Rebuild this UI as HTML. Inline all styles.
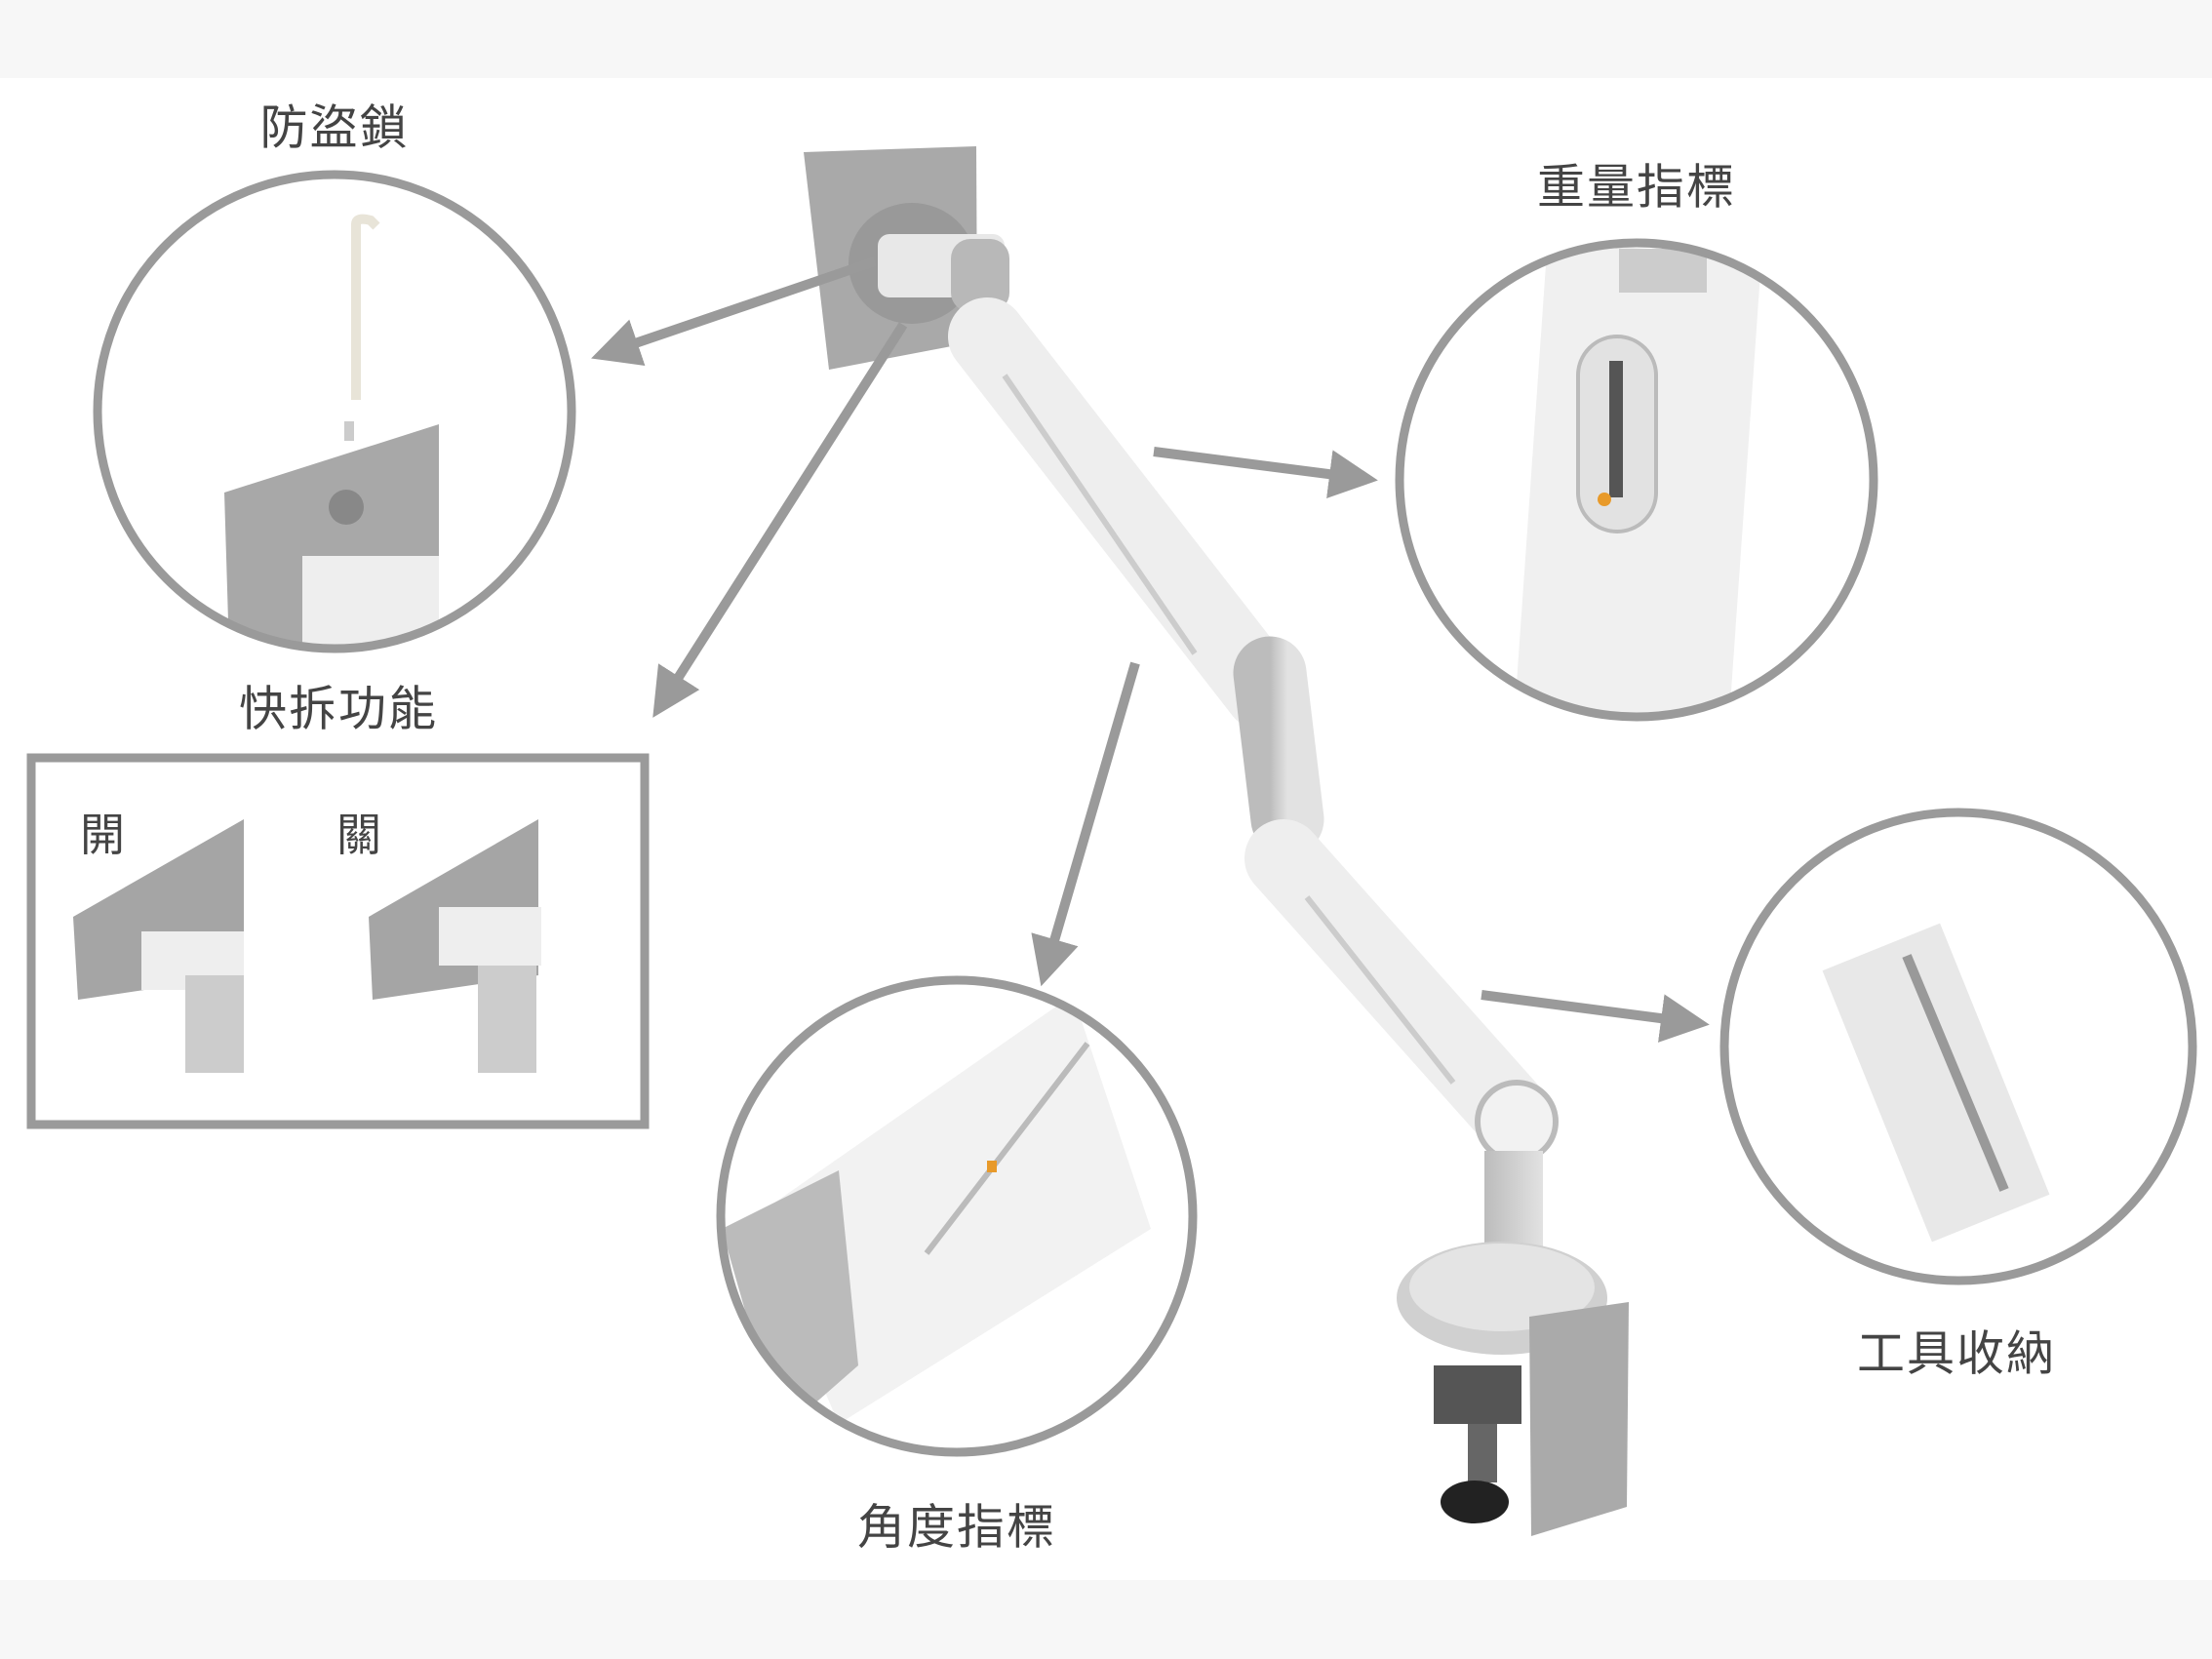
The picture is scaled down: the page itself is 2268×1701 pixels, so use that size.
<!DOCTYPE html>
<html><head><meta charset="utf-8"><style>
html,body{margin:0;padding:0;background:#fff}
.l{position:absolute;font-family:"Liberation Sans","Noto Sans CJK TC",sans-serif;color:#444;font-size:49px;transform:translate(-50%,-50%);white-space:nowrap;letter-spacing:2px}
</style></head><body>
<div style="position:relative;width:2268px;height:1701px;overflow:hidden;background:#fff">
<svg width="2268" height="1701" style="position:absolute;left:0;top:0">
<defs>
<marker id="a" markerWidth="6" markerHeight="6" refX="3" refY="3" orient="auto" markerUnits="strokeWidth"><path d="M0,0.5 L5,3 L0,5.5 Z" fill="#9a9a9a"/></marker>
<linearGradient id="g" x1="0" x2="1"><stop offset="0" stop-color="#bcbcbc"/><stop offset="1" stop-color="#e2e2e2"/></linearGradient>
<clipPath id="c1"><circle cx="343" cy="422" r="240"/></clipPath>
<clipPath id="c2"><circle cx="1678" cy="492" r="240"/></clipPath>
<clipPath id="c3"><circle cx="2008" cy="1073" r="237"/></clipPath>
<clipPath id="c4"><circle cx="981" cy="1247" r="239"/></clipPath>
</defs>
<rect x="0" y="0" width="2268" height="80" fill="#f7f7f7"/>
<rect x="0" y="1620" width="2268" height="81" fill="#f7f7f7"/>
<!-- arm -->
<polygon points="824,156 1001,150 1002,350 850,379" fill="#a9a9a9"/>
<ellipse cx="935" cy="270" rx="65" ry="62" fill="#999"/>
<rect x="900" y="240" width="130" height="65" rx="12" fill="#e8e8e8"/>
<rect x="975" y="245" width="60" height="75" rx="20" fill="#b8b8b8"/>
<line x1="1012" y1="345" x2="1295" y2="709" stroke="#eeeeee" stroke-width="80" stroke-linecap="round"/>
<line x1="1030" y1="385" x2="1225" y2="670" stroke="#ccc" stroke-width="6"/>
<line x1="1302" y1="690" x2="1320" y2="840" stroke="url(#g)" stroke-width="75" stroke-linecap="round"/>
<line x1="1316" y1="880" x2="1548" y2="1140" stroke="#eeeeee" stroke-width="80" stroke-linecap="round"/>
<line x1="1340" y1="920" x2="1490" y2="1110" stroke="#ccc" stroke-width="6"/>
<circle cx="1555" cy="1150" r="40" fill="#f2f2f2" stroke="#bbb" stroke-width="6"/>
<rect x="1522" y="1180" width="60" height="150" fill="url(#g)"/>
<ellipse cx="1540" cy="1331" rx="108" ry="58" fill="#d0d0d0"/>
<ellipse cx="1540" cy="1320" rx="95" ry="45" fill="#e4e4e4"/>
<polygon points="1568,1350 1670,1335 1668,1545 1570,1575" fill="#aaa"/>
<rect x="1470" y="1400" width="90" height="60" fill="#555"/>
<rect x="1505" y="1460" width="30" height="60" fill="#666"/>
<ellipse cx="1512" cy="1540" rx="35" ry="22" fill="#222"/>
<!-- arrows -->
<g stroke="#9a9a9a" stroke-width="10" fill="none" marker-end="url(#a)">
<line x1="897" y1="268" x2="625" y2="361"/>
<line x1="926" y1="333" x2="680" y2="719"/>
<line x1="1183" y1="463" x2="1393" y2="490"/>
<line x1="1164" y1="680" x2="1073" y2="992"/>
<line x1="1519" y1="1020" x2="1733" y2="1048"/>
</g>
<!-- circle contents -->
<g clip-path="url(#c1)">
<path d="M365,410 L365,230 Q365,222 380,226 L386,232" stroke="#e8e4d8" stroke-width="10" fill="none"/>
<rect x="353" y="432" width="10" height="20" fill="#ccc"/>
<polygon points="230,505 450,435 450,670 235,670" fill="#a8a8a8"/>
<rect x="310" y="570" width="140" height="100" fill="#eee"/>
<circle cx="355" cy="520" r="18" fill="#888"/>
</g>
<g clip-path="url(#c2)">
<rect x="1570" y="255" width="220" height="480" fill="#f0f0f0" transform="rotate(4 1680 490)"/>
<rect x="1660" y="255" width="90" height="45" fill="#ccc"/>
<rect x="1618" y="345" width="80" height="200" rx="40" fill="#e2e2e2" stroke="#bbb" stroke-width="4"/>
<rect x="1650" y="370" width="14" height="140" fill="#555"/>
<circle cx="1645" cy="512" r="7" fill="#e89a2a"/>
</g>
<g clip-path="url(#c3)">
<rect x="1920" y="960" width="130" height="300" fill="#e8e8e8" transform="rotate(-22 1985 1110)"/>
<line x1="1955" y1="980" x2="2055" y2="1220" stroke="#999" stroke-width="10"/>
</g>
<g clip-path="url(#c4)">
<polygon points="770,1250 1100,1020 1180,1260 860,1460" fill="#f2f2f2"/>
<polygon points="740,1260 860,1200 880,1400 800,1470" fill="#bbb"/>
<line x1="950" y1="1285" x2="1115" y2="1070" stroke="#bbb" stroke-width="6"/>
<rect x="1012" y="1190" width="10" height="12" fill="#e89a2a"/>
</g>
<!-- circles -->
<g fill="none" stroke="#9a9a9a" stroke-width="9">
<circle cx="343" cy="422" r="243"/>
<circle cx="1678" cy="492" r="243"/>
<circle cx="2008" cy="1073" r="240"/>
<circle cx="981" cy="1247" r="242"/>
<rect x="32" y="777" width="629" height="376"/>
</g>
<!-- quick release -->
<polygon points="75,940 250,840 250,1000 80,1025" fill="#a5a5a5"/>
<rect x="145" y="955" width="105" height="60" fill="#eee"/>
<rect x="190" y="1000" width="60" height="100" fill="#ccc"/>
<polygon points="378,940 552,840 552,1000 382,1025" fill="#a5a5a5"/>
<rect x="450" y="930" width="105" height="60" fill="#eee"/>
<rect x="490" y="990" width="60" height="110" fill="#ccc"/>
</svg>
<div class="l" style="left:343px;top:127px">防盜鎖</div>
<div class="l" style="left:1678px;top:188px">重量指標</div>
<div class="l" style="left:347px;top:723px">快拆功能</div>
<div class="l" style="left:2006px;top:1384px">工具收納</div>
<div class="l" style="left:981px;top:1562px">角度指標</div>
<div class="l" style="left:106px;top:853px;font-size:46px">開</div>
<div class="l" style="left:369px;top:853px;font-size:46px">關</div>
</div>
</body></html>
